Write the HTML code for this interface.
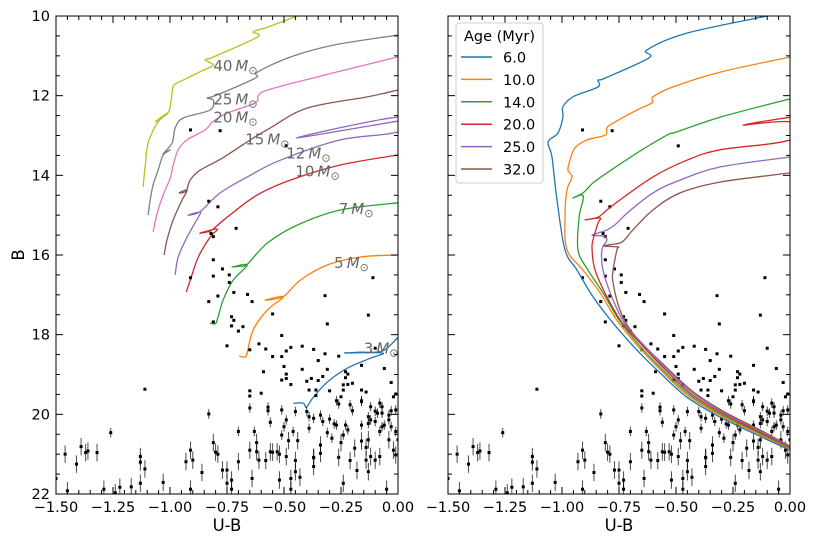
<!DOCTYPE html>
<html><head><meta charset="utf-8">
<style>
html,body{margin:0;padding:0;background:#fff;}
svg{display:block;font-family:"DejaVu Sans","Liberation Sans",sans-serif;}
</style></head>
<body>
<svg id="chart" width="817" height="545" viewBox="0 0 817 545" xmlns="http://www.w3.org/2000/svg">
<defs>
<clipPath id="clipL"><rect x="56" y="16" width="342" height="478"/></clipPath>
<clipPath id="clipR"><rect x="448" y="16" width="342" height="478"/></clipPath>
</defs>
<g id="panelL"></g>
<g id="panelR"></g>
</svg>
<script>
// ---- data ----
const starU = [-0.81,-0.91,-0.81,-0.77,-0.74,-0.74,-0.72,-0.79,-0.83,-0.66,-0.64,-0.55,-0.81,-0.73,-0.72,-0.73,-0.70,-0.68,-0.75,-0.51,-0.32,-0.31,-0.13,-0.11,-0.10,-0.65,-0.61,-0.58,-0.55,-0.51,-0.49,-0.47,-0.42,-0.37,-0.32,-0.26,-0.50,-0.42,-0.35,-0.31,-0.16,-0.06,-0.59,-0.49,-0.49,-0.51,-0.47,-0.40,-0.38,-0.35,-0.33,-0.23,-0.23,-0.22,-0.24,-0.24,-0.22,-0.20,-0.16,-0.16,-0.16,-0.14,-0.03,-0.65,-0.65,-0.65,-0.60,-0.57,-0.56,-0.57,-0.51,-0.50,-0.49,-0.45,-0.40,-0.39,-0.36,-0.36,-0.30,-0.27,-0.26,-0.25,-0.21,-0.20,-0.12,-0.10,-0.08,-0.07,-0.09,-0.07,-0.03,-0.02,-0.01,-0.04,-0.01,-0.83,-0.39,-0.37,-0.34,-0.33,-0.30,-0.27,-0.28,-0.23,-0.22,-0.16,-0.13,-0.13,-0.12,-0.10,-0.08,-0.07,-0.06,-0.04,-0.03,-0.01,-0.70,-0.63,-0.62,-0.62,-0.65,-0.56,-0.51,-0.48,-0.44,-0.46,-0.39,-0.34,-0.34,-0.37,-0.31,-0.29,-0.25,-0.24,-0.19,-0.16,-0.13,-0.14,-0.12,-0.10,-0.08,-0.14,-0.02,-0.01,-0.04,-0.00,-1.46,-1.41,-1.39,-1.37,-1.36,-1.32,-1.26,-1.11,-1.13,-1.11,-1.13,-0.93,-0.91,-0.90,-0.81,-0.80,-0.79,-0.77,-0.75,-0.75,-0.73,-0.73,-0.70,-0.64,-0.61,-0.58,-0.55,-0.53,-0.52,-0.49,-0.45,-0.45,-0.43,-0.52,-0.47,-0.47,-0.37,-0.37,-0.26,-0.24,-0.21,-0.18,-0.13,-0.05,-0.86,-1.03,-0.91,-1.13,-1.17,-1.22,-1.29,-1.45,-1.50,-1.24,-0.91,-0.78,-0.49,-0.83,-0.79,-0.82,-0.81,-0.71];
const starB = [16.12,16.57,16.53,16.35,16.50,16.69,16.94,17.03,17.17,16.99,17.17,17.48,17.68,17.55,17.64,17.78,17.91,17.80,18.28,18.02,17.02,17.73,17.51,16.57,18.34,18.38,18.23,18.36,18.55,18.55,18.41,18.32,18.29,18.37,18.48,18.54,18.80,18.87,18.65,18.87,18.77,18.85,18.93,18.99,19.10,19.14,19.25,19.17,19.10,19.15,19.05,19.08,18.93,18.99,19.26,19.39,19.25,19.22,19.39,19.66,19.68,19.44,19.20,19.41,19.54,19.84,19.47,19.82,20.20,19.91,19.89,20.31,20.14,19.93,19.93,19.39,19.53,19.39,19.41,19.66,19.74,19.56,19.76,19.91,19.81,19.92,19.72,19.81,19.97,19.97,19.91,19.56,19.49,20.02,19.89,19.99,20.06,20.10,20.02,20.18,20.12,20.27,20.24,20.27,20.39,20.27,20.23,20.06,20.14,20.18,20.43,20.31,20.27,20.14,20.31,20.43,20.43,20.43,20.71,20.94,20.90,20.94,20.52,20.66,20.66,20.43,20.35,20.77,20.98,21.09,20.46,20.60,20.71,20.52,20.85,20.67,20.64,20.83,21.06,21.15,21.06,21.15,20.90,21.02,20.64,20.64,21.00,21.25,20.81,20.96,20.92,20.96,20.46,19.37,21.20,21.37,21.06,21.19,20.90,21.15,20.71,20.95,21.00,21.40,21.40,21.73,21.65,21.88,21.19,21.61,21.15,21.16,20.95,20.94,21.00,21.06,21.16,21.44,21.58,21.65,21.61,21.88,21.31,21.08,21.08,21.73,21.16,21.41,21.44,21.88,21.46,21.71,21.88,21.73,21.82,21.83,21.88,21.92,21.61,21.97,12.86,12.88,13.26,14.65,14.79,15.46,15.54,15.33];

// Mass tracks (left panel)
const trackNames = ["3","5","7","10","12","15","20","25","40"];
const trackColors = ["#1f77b4","#ff7f0e","#2ca02c","#d62728","#9467bd","#8c564b","#e377c2","#7f7f7f","#bcbd22"];
const track3U = [-0.459,-0.415,-0.402,-0.371,-0.310,-0.222,-0.121,-0.068,-0.231,-0.165,-0.068,-0.002];
const track3B = [19.72,19.72,19.82,19.57,19.19,18.84,18.59,18.46,18.46,18.44,18.41,18.08];
const track5U = [-0.696,-0.670,-0.661,-0.635,-0.573,-0.503,-0.582,-0.547,-0.499,-0.428,-0.310,-0.165,-0.002];
const track5B = [18.54,18.56,18.44,17.88,17.38,17.05,17.13,17.11,17.03,16.63,16.25,16.05,16.00];
const track7U = [-0.824,-0.802,-0.793,-0.767,-0.723,-0.661,-0.727,-0.692,-0.661,-0.573,-0.442,-0.253,-0.002];
const track7B = [17.71,17.73,17.63,17.13,16.63,16.25,16.30,16.28,16.23,15.70,15.25,14.87,14.69];
const track10U = [-0.929,-0.911,-0.876,-0.824,-0.793,-0.868,-0.837,-0.815,-0.749,-0.617,-0.472,-0.253,-0.002];
const track10B = [16.93,16.63,16.05,15.55,15.35,15.45,15.42,15.37,15.05,14.49,14.12,13.74,13.49];
const track12U = [-0.977,-0.964,-0.925,-0.876,-0.868,-0.920,-0.890,-0.859,-0.780,-0.661,-0.516,-0.253,-0.002,-0.002,-0.446,-0.002];
const track12B = [16.50,16.05,15.55,15.05,14.92,15.00,14.97,14.87,14.44,14.04,13.62,13.11,12.91,12.54,13.06,12.64];
const track15U = [-1.026,-1.013,-0.986,-0.947,-0.925,-0.960,-0.929,-0.912,-0.868,-0.771,-0.648,-0.560,-0.398,-0.134,-0.002];
const track15B = [16.00,15.62,15.12,14.62,14.37,14.44,14.39,14.12,13.87,13.57,13.11,12.81,12.31,12.03,11.86];
const track20U = [-1.074,-1.056,-1.030,-0.999,-0.986,-0.964,-0.925,-0.846,-0.810,-0.749,-0.626,-0.613,-0.573,-0.354,-0.002];
const track20B = [15.42,14.95,14.49,14.07,13.74,13.36,13.11,12.86,12.64,12.44,12.18,12.01,11.86,11.53,11.03];
const track25U = [-1.096,-1.087,-1.074,-1.052,-1.030,-0.999,-1.030,-0.991,-0.977,-0.942,-0.824,-0.810,-0.837,-0.793,-0.626,-0.617,-0.472,-0.283,-0.002];
const track25B = [15.00,14.62,14.24,13.87,13.49,13.36,13.46,13.19,12.81,12.56,12.36,12.11,12.06,11.98,11.56,11.41,11.03,10.73,10.48];
const track40U = [-1.118,-1.109,-1.096,-1.056,-1.013,-1.065,-1.013,-0.999,-0.991,-0.982,-0.942,-0.854,-0.810,-0.846,-0.810,-0.617,-0.635,-0.573,-0.428];
const track40B = [14.29,13.79,13.19,12.69,12.44,12.66,12.46,12.28,11.93,11.73,11.61,11.36,11.23,11.10,11.03,10.53,10.40,10.28,9.97];
const labelU = [-0.15,-0.28,-0.26,-0.45,-0.49,-0.67,-0.81,-0.81,-0.81];
const labelB = [18.35,16.2,14.85,13.9,13.45,13.1,12.55,12.1,11.25];

// Isochrones (right panel)
const ageLabels = ["6.0","10.0","14.0","20.0","25.0","32.0"];
const ageColors = ["#1f77b4","#ff7f0e","#2ca02c","#d62728","#9467bd","#8c564b"];
const iso6U = [-0.101,-0.452,-0.627,-0.618,-0.811,-0.842,-0.842,-0.952,-0.996,-0.996,-1.018,-1.061,-1.044,-1.022,-0.987,-0.934,-0.864,-0.776,-0.671,-0.570,-0.452,-0.307,-0.162,0.000];
const iso6B = [10.00,10.43,10.85,11.05,11.56,11.61,11.78,12.03,12.28,12.54,12.94,13.16,13.54,14.62,15.87,16.38,17.05,17.71,18.39,18.96,19.57,20.07,20.47,20.90];
const iso10U = [0.000,-0.307,-0.513,-0.601,-0.605,-0.671,-0.776,-0.803,-0.811,-0.890,-0.943,-0.965,-0.974,-0.956,-0.978,-0.987,-0.978,-0.908,-0.833,-0.760,-0.664,-0.562,-0.446,-0.302,-0.158,0.000];
const iso10B = [11.03,11.41,11.78,12.03,12.18,12.36,12.69,12.81,12.99,13.11,13.31,13.62,13.87,14.04,14.37,15.05,15.87,16.38,16.95,17.63,18.31,18.92,19.54,20.04,20.44,20.88];
const iso14U = [0.000,-0.307,-0.496,-0.539,-0.671,-0.803,-0.864,-0.908,-0.952,-0.912,-0.908,-0.925,-0.930,-0.886,-0.820,-0.750,-0.658,-0.556,-0.441,-0.297,-0.154,0.000];
const iso14B = [12.08,12.54,12.91,12.99,13.44,13.94,14.19,14.44,14.57,14.49,14.62,15.05,15.87,16.38,16.95,17.63,18.29,18.90,19.51,20.02,20.42,20.86];
const iso20U = [0,-0.206,0,0,-0.307,-0.452,-0.601,-0.746,-0.803,-0.842,-0.899,-0.833,-0.842,-0.864,-0.868,-0.855,-0.803,-0.735,-0.650,-0.551,-0.436,-0.293,-0.150,0];
const iso20B = [12.54,12.74,12.66,13.11,13.36,13.62,14.04,14.62,14.87,15.05,15.12,15.07,15.20,15.62,15.87,16.38,17.05,17.71,18.26,18.86,19.48,19.99,20.40,20.84];
const iso25U = [0,-0.307,-0.482,-0.601,-0.715,-0.759,-0.803,-0.868,-0.825,-0.803,-0.825,-0.820,-0.776,-0.720,-0.642,-0.546,-0.431,-0.288,-0.146,0];
const iso25B = [13.54,13.79,14.12,14.44,14.95,15.20,15.37,15.50,15.52,15.62,15.87,16.38,17.13,17.76,18.26,18.84,19.45,19.97,20.38,20.82];
const iso32U = [0,-0.307,-0.482,-0.601,-0.689,-0.715,-0.746,-0.820,-0.754,-0.759,-0.776,-0.776,-0.746,-0.700,-0.634,-0.540,-0.426,-0.284,-0.142,0];
const iso32B = [13.94,14.17,14.44,14.87,15.37,15.55,15.70,15.77,15.80,15.87,16.38,16.70,17.38,17.88,18.31,18.83,19.43,19.95,20.36,20.80];

const xTicks = [-1.5,-1.25,-1.0,-0.75,-0.5,-0.25,0.0];
const xTickLabels = ["\u22121.50","\u22121.25","\u22121.00","\u22120.75","\u22120.50","\u22120.25","0.00"];
const yTicks = [10,12,14,16,18,20,22];
const yTickLabels = ["10","12","14","16","18","20","22"];

// ---- axes ----
const NS = "http://www.w3.org/2000/svg";
const svg = document.getElementById('chart');
const Y0 = 16, Y1 = 494;
function yScale(b){ return Y0 + (b - 10) / 12 * (Y1 - Y0); }
function makeX(left, right){ return u => left + (u + 1.5) / 1.5 * (right - left); }
function el(tag, attrs, parent){ const e = document.createElementNS(NS, tag); for (const k in attrs) e.setAttribute(k, attrs[k]); parent.appendChild(e); return e; }

function drawStars(g, xs){
  for (let i = 0; i < starU.length; i++){
    const x = xs(starU[i]), y = yScale(starB[i]);
    const err = starB[i] > 20.6 ? 0.22 : (starB[i] > 19.6 ? 0.12 : 0.04);
    if (err > 0.05){
      const ln = el('line', {x1:x, x2:x, y1:yScale(starB[i]-err), y2:yScale(starB[i]+err), stroke:'#000', 'stroke-width':1, opacity:0.7}, g);
      
      
    }
    const r = el('rect', {x:x-1.5, y:y-1.5, width:3, height:3, fill:'#000'}, g);
    
    
  }
}
function drawLine(g, us, bs, xs, color, name){
  const P = us.map((u, i) => [xs(u), yScale(bs[i])]);
  let d = 'M' + P[0][0].toFixed(1) + ',' + P[0][1].toFixed(1);
  for (let i = 0; i < P.length - 1; i++){
    const p0 = P[Math.max(i-1,0)], p1 = P[i], p2 = P[i+1], p3 = P[Math.min(i+2,P.length-1)];
    const c1 = [p1[0] + (p2[0]-p0[0])/6, p1[1] + (p2[1]-p0[1])/6];
    const c2 = [p2[0] - (p3[0]-p1[0])/6, p2[1] - (p3[1]-p1[1])/6];
    d += 'C' + c1[0].toFixed(1) + ',' + c1[1].toFixed(1) + ' ' + c2[0].toFixed(1) + ',' + c2[1].toFixed(1) + ' ' + p2[0].toFixed(1) + ',' + p2[1].toFixed(1);
  }
  const p = el('path', {d:d, fill:'none', stroke:color, 'stroke-width':1.3, 'stroke-linejoin':'round'}, g);
  
  
}
function drawAxes(left, right, showY, xs){
  const g = el('g', {}, svg);
  
  
  el('rect', {x:left, y:Y0, width:right-left, height:Y1-Y0, fill:'none', stroke:'#000', 'stroke-width':1}, g);
  for (let k = 0; k <= 30; k++){
    const u = -1.5 + k * 0.05, x = xs(u), major = k % 5 === 0, L = major ? 7 : 4;
    el('line', {x1:x, x2:x, y1:Y1, y2:Y1-L, stroke:'#000', 'stroke-width':1}, g);
    el('line', {x1:x, x2:x, y1:Y0, y2:Y0+L, stroke:'#000', 'stroke-width':1}, g);
  }
  for (let k = 0; k <= 24; k++){
    const b = 10 + k * 0.5, y = yScale(b), major = k % 4 === 0, L = major ? 7 : 4;
    el('line', {x1:left, x2:left+L, y1:y, y2:y, stroke:'#000', 'stroke-width':1}, g);
    el('line', {x1:right, x2:right-L, y1:y, y2:y, stroke:'#000', 'stroke-width':1}, g);
  }
  xTicks.forEach((t, i) => {
    const tx = el('text', {x:xs(t), y:512, 'font-size':14.5, 'text-anchor':'middle', fill:'#000'}, g);
    tx.textContent = xTickLabels[i];
    
    
  });
  if (showY){
    yTicks.forEach((t, i) => {
      const ty = el('text', {x:left-6, y:yScale(t)+5, 'font-size':14.5, 'text-anchor':'end', fill:'#000'}, g);
      ty.textContent = yTickLabels[i];
      
      
    });
  }
  const xl = el('text', {x:(left+right)/2, y:531, 'font-size':16.5, 'text-anchor':'middle', fill:'#000'}, g);
  xl.textContent = 'U-B';
  
  
}

// ---- left panel ----
const xL = makeX(56, 398);
const gL = document.getElementById('panelL');
gL.setAttribute('clip-path', 'url(#clipL)');
const trackU = [track3U,track5U,track7U,track10U,track12U,track15U,track20U,track25U,track40U];
const trackB = [track3B,track5B,track7B,track10B,track12B,track15B,track20B,track25B,track40B];
for (let i = 0; i < trackNames.length; i++) drawLine(gL, trackU[i], trackB[i], xL, trackColors[i], 'track-' + trackNames[i] + '-msun');
drawStars(gL, xL);
const gLab = el('g', {}, svg);


for (let i = 0; i < trackNames.length; i++){
  const t = el('text', {x:xL(labelU[i]), y:yScale(labelB[i])+5, 'font-size':15, fill:'#666'}, gLab);
  t.innerHTML = trackNames[i] + '\u2009<tspan font-style="italic">M</tspan><tspan font-size="11" dy="3">\u2299</tspan>';
  
  
}
drawAxes(56, 398, true, xL);
const yl = el('text', {x:24, y:255, 'font-size':16.5, 'text-anchor':'middle', fill:'#000', transform:'rotate(-90 24 255)'}, svg);
yl.textContent = 'B';



// ---- right panel ----
const xR = makeX(448, 790);
const gR = document.getElementById('panelR');
gR.setAttribute('clip-path', 'url(#clipR)');
const isoU = [iso6U,iso10U,iso14U,iso20U,iso25U,iso32U];
const isoB = [iso6B,iso10B,iso14B,iso20B,iso25B,iso32B];
drawStars(gR, xR);
for (let i = ageLabels.length - 1; i >= 0; i--) drawLine(gR, isoU[i], isoB[i], xR, ageColors[i], 'isochrone-' + ageLabels[i] + '-myr');
drawAxes(448, 790, false, xR);

// legend
const lg = el('g', {}, svg);


el('rect', {x:456, y:23, width:87, height:160, rx:3, fill:'#fff', 'fill-opacity':0.85, stroke:'#ccc', 'stroke-width':1}, lg);
const lt = el('text', {x:499.5, y:41, 'font-size':14.5, 'text-anchor':'middle', fill:'#000'}, lg);
lt.textContent = 'Age (Myr)';


for (let i = 0; i < ageLabels.length; i++){
  const y = 57 + i * 22.4;
  const e = el('g', {}, lg);
  
  
  el('line', {x1:461, x2:492, y1:y, y2:y, stroke:ageColors[i], 'stroke-width':1.5}, e);
  const t = el('text', {x:503, y:y+5.5, 'font-size':14.5, fill:'#000'}, e);
  t.textContent = ageLabels[i];
}
</script>
</body></html>
